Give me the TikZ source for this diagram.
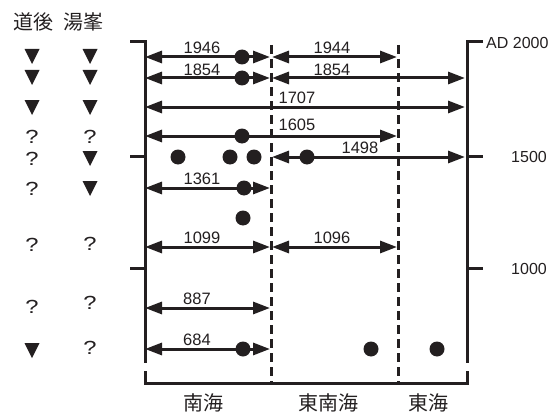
\documentclass[tikz,border=0pt]{standalone}
\usepackage{fontspec}
\setmainfont{Liberation Sans}
\newfontfamily\jpfont{Noto Sans CJK JP}
\usetikzlibrary{arrows.meta}
\definecolor{ink}{HTML}{231F20}
\newcommand\qmark{\scalebox{1.25}[1]{?}}
\begin{document}
\begin{tikzpicture}[x=1pt,y=-1pt,
  axis/.style={line width=3pt, draw=ink},
  dashline/.style={line width=3pt, draw=ink, dash pattern=on 9pt off 5pt},
  span/.style={line width=3pt, draw=ink,
    {Triangle[length=17pt,width=12pt]}-{Triangle[length=17pt,width=12pt]}},
  lbl/.style={font=\fontsize{16.5}{16.5}\selectfont, text=ink, inner sep=0pt, anchor=base},
  tlbl/.style={font=\fontsize{16}{16}\selectfont, text=ink, inner sep=0pt},
  qm/.style={font=\fontsize{19}{19}\selectfont, text=ink, inner sep=0pt},
  jlbl/.style={font=\jpfont\fontsize{20}{20}\selectfont, text=ink, inner sep=0pt},
  dot/.style={circle, fill=ink, minimum size=15pt, inner sep=0pt},
  downtri/.pic={\fill[ink] (-7.5,-7) -- (7.5,-7) -- (0,8) -- cycle;}
]
\useasboundingbox (0,0) rectangle (557,412);

% ---- header
\node[jlbl] (hd1) at (33,22) {道後};
\node[jlbl] (hd2) at (83,22) {湯峯};

% ---- left axis
\coordinate (LT0) at (130,42);
\coordinate (LT) at (145,42);
\coordinate (LB) at (145,363);
\draw[axis] (LT0) -- (LT) -- (LB);
\coordinate (L15a) at (130,156); \coordinate (L15b) at (145,156);
\coordinate (L10a) at (130,268); \coordinate (L10b) at (145,268);
\draw[axis] (L15a) -- (L15b);
\draw[axis] (L10a) -- (L10b);

% ---- right axis
\coordinate (RT0) at (483,42);
\coordinate (RT) at (467,42);
\coordinate (RB) at (467,363);
\draw[axis] (RT0) -- (RT) -- (RB);
\coordinate (R15a) at (467,156); \coordinate (R15b) at (483,156);
\coordinate (R10a) at (467,268); \coordinate (R10b) at (483,268);
\draw[axis] (R15a) -- (R15b);
\draw[axis] (R10a) -- (R10b);
\node[tlbl, anchor=west] (ad) at (486,43) {AD 2000};
\node[tlbl] (y1500) at (529,157) {1500};
\node[tlbl] (y1000) at (529,269) {1000};

% ---- dashed region boundaries
\coordinate (D1t) at (271,45); \coordinate (D1b) at (271,383);
\coordinate (D2t) at (398,45); \coordinate (D2b) at (398,383);
\draw[dashline] (D1t) -- (D1b);
\draw[dashline] (D2t) -- (D2b);

% ---- bottom bracket
\coordinate (B1) at (145,371); \coordinate (B2) at (145,383);
\coordinate (B3) at (467,383); \coordinate (B4) at (467,371);
\draw[axis] (B1) -- (B2) -- (B3) -- (B4);
\node[jlbl] (nankai) at (203,403) {南海};
\node[jlbl] (tonankai) at (328,403) {東南海};
\node[jlbl] (tokai) at (428,403) {東海};

% ---- row end coordinates
\foreach \n/\y in {1/57,2/78,3/107,4/136,5/157,6/188,8/247,9/308,10/349}{
  \coordinate (a\n) at (145,\y);
  \coordinate (m\n) at (270,\y);
  \coordinate (n\n) at (272,\y);
  \coordinate (r\n) at (397,\y);
  \coordinate (e\n) at (465,\y);
}

% row 1
\draw[span] (a1) -- (m1);
\draw[span] (n1) -- (r1);
\node[dot] (d1) at (242,57) {};
\node[lbl] (t1946) at (202,54) {1946};
\node[lbl] (t1944) at (332,54) {1944};
% row 2
\draw[span] (a2) -- (m2);
\draw[span] (n2) -- (e2);
\node[dot] (d2) at (242,78) {};
\node[lbl] (t1854a) at (202,75) {1854};
\node[lbl] (t1854b) at (332,75) {1854};
% row 3
\draw[span] (a3) -- (e3);
\node[lbl] (t1707) at (297,103.5) {1707};
% row 4
\draw[span] (a4) -- (r4);
\node[dot] (d4) at (242,136) {};
\node[lbl] (t1605) at (297,130.5) {1605};
% row 5
\node[dot] (d5a) at (178,157) {};
\node[dot] (d5b) at (230,157) {};
\node[dot] (d5c) at (254,157) {};
\draw[span] (n5) -- (e5);
\node[dot] (d5d) at (307,157) {};
\node[lbl] (t1498) at (360,153.5) {1498};
% row 6
\draw[span] (a6) -- (m6);
\node[dot] (d6) at (244,188) {};
\node[lbl] (t1361) at (202,184.5) {1361};
% row 7
\node[dot] (d7) at (243,218) {};
% row 8
\draw[span] (a8) -- (m8);
\draw[span] (n8) -- (r8);
\node[lbl] (t1099) at (202,243) {1099};
\node[lbl] (t1096) at (332,243) {1096};
% row 9
\draw[span] (a9) -- (m9);
\node[lbl] (t887) at (197,304) {887};
% row 10
\draw[span] (a10) -- (m10);
\node[dot] (d10) at (243,349) {};
\node[dot] (d10b) at (371,349) {};
\node[dot] (d10c) at (437,349) {};
\node[lbl] (t684) at (197,345) {684};

% ---- left symbol columns
\pic at (32,56) {downtri};  \pic at (90,56) {downtri};
\pic at (32,77) {downtri};  \pic at (90,77) {downtri};
\pic at (32,107) {downtri}; \pic at (90,107) {downtri};
\node[qm] (q4a) at (32,137) {\qmark}; \node[qm] (q4b) at (90,137) {\qmark};
\node[qm] (q5a) at (32,159) {\qmark}; \pic at (90,158) {downtri};
\node[qm] (q6a) at (32,189) {\qmark}; \pic at (90,188) {downtri};
\node[qm] (q8a) at (32,245) {\qmark}; \node[qm] (q8b) at (90,244) {\qmark};
\node[qm] (q9a) at (32,307) {\qmark}; \node[qm] (q9b) at (90,303) {\qmark};
\pic at (32,350) {downtri}; \node[qm] (q10b) at (90,348) {\qmark};
\end{tikzpicture}
\end{document}
